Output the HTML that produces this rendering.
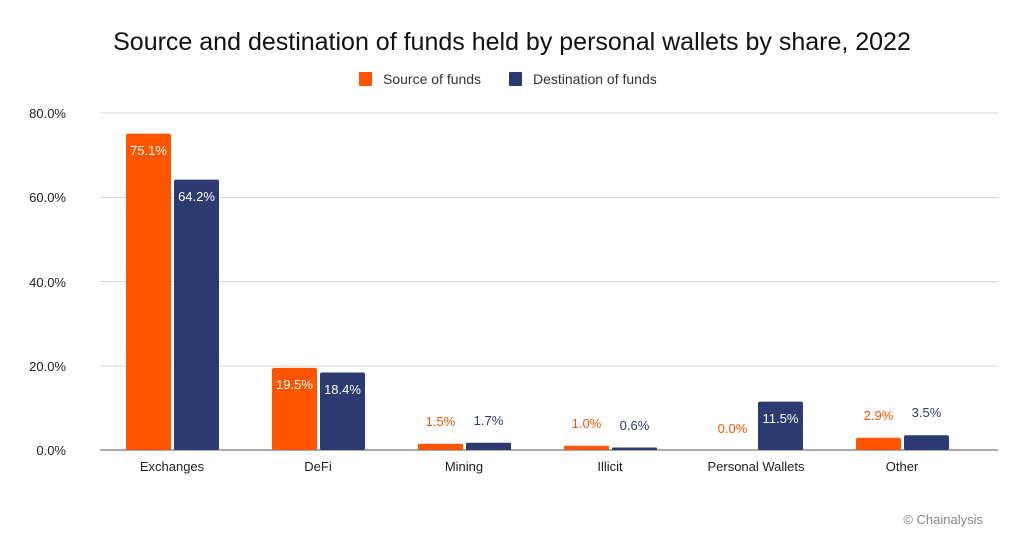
<!DOCTYPE html>
<html><head><meta charset="utf-8"><style>
body{margin:0;background:#fff}
svg text{font-family:"Liberation Sans",sans-serif}
</style></head><body>
<svg width="1024" height="539" xmlns="http://www.w3.org/2000/svg">
<rect width="1024" height="539" fill="#fff"/>
<text x="512" y="50" font-size="25" text-anchor="middle" fill="#111">Source and destination of funds held by personal wallets by share, 2022</text>
<rect x="359" y="72" width="13" height="14" rx="1" fill="#FF5500"/>
<text x="383" y="84" font-size="14" fill="#333">Source of funds</text>
<rect x="509" y="72" width="13" height="14" rx="1" fill="#2B3A70"/>
<text x="533" y="84" font-size="14" fill="#333">Destination of funds</text>
<g stroke="#d6d6d6" stroke-width="1">
<line x1="100" y1="113" x2="998" y2="113"/><line x1="100" y1="197.5" x2="998" y2="197.5"/>
<line x1="100" y1="281.5" x2="998" y2="281.5"/><line x1="100" y1="366" x2="998" y2="366"/>
</g>
<line x1="100" y1="450" x2="998" y2="450" stroke="#555" stroke-width="1"/>
<g font-size="13" fill="#222" text-anchor="end">
<text x="66" y="118">80.0%</text><text x="66" y="202">60.0%</text><text x="66" y="287">40.0%</text><text x="66" y="371">20.0%</text><text x="66" y="455">0.0%</text>
</g>
<g font-size="13" fill="#222" text-anchor="middle">
<text x="172" y="471">Exchanges</text><text x="318" y="471">DeFi</text><text x="464" y="471">Mining</text><text x="610" y="471">Illicit</text><text x="756" y="471">Personal Wallets</text><text x="902" y="471">Other</text>
</g>
<g>
<rect x="126" y="133.6" width="45" height="316.4" rx="2" fill="#FF5500"/>
<rect x="174" y="179.6" width="45" height="270.4" rx="2" fill="#2B3A70"/>
<rect x="272" y="367.9" width="45" height="82.1" rx="2" fill="#FF5500"/>
<rect x="320" y="372.5" width="45" height="77.5" rx="2" fill="#2B3A70"/>
<rect x="418" y="443.7" width="45" height="6.3" rx="1" fill="#FF5500"/>
<rect x="466" y="442.8" width="45" height="7.2" rx="1" fill="#2B3A70"/>
<rect x="564" y="445.8" width="45" height="4.2" rx="1" fill="#FF5500"/>
<rect x="612" y="447.5" width="45" height="2.5" rx="1" fill="#2B3A70"/>
<rect x="758" y="401.6" width="45" height="48.4" rx="2" fill="#2B3A70"/>
<rect x="856" y="437.8" width="45" height="12.2" rx="2" fill="#FF5500"/>
<rect x="904" y="435.3" width="45" height="14.7" rx="2" fill="#2B3A70"/>
</g>
<g font-size="13" text-anchor="middle">
<text x="148.5" y="155" fill="#fff">75.1%</text>
<text x="196.5" y="201" fill="#fff">64.2%</text>
<text x="294.5" y="389" fill="#fff">19.5%</text>
<text x="342.5" y="394" fill="#fff">18.4%</text>
<text x="780.5" y="423" fill="#fff">11.5%</text>
<text x="440.5" y="426" fill="#FF5500">1.5%</text>
<text x="488.5" y="425" fill="#2B3A70">1.7%</text>
<text x="586.5" y="428" fill="#FF5500">1.0%</text>
<text x="634.5" y="430" fill="#2B3A70">0.6%</text>
<text x="732.5" y="433" fill="#FF5500">0.0%</text>
<text x="878.5" y="420" fill="#FF5500">2.9%</text>
<text x="926.5" y="417" fill="#2B3A70">3.5%</text>
</g>
<text x="983" y="524" font-size="13" fill="#888" text-anchor="end">© Chainalysis</text>
</svg>
</body></html>
